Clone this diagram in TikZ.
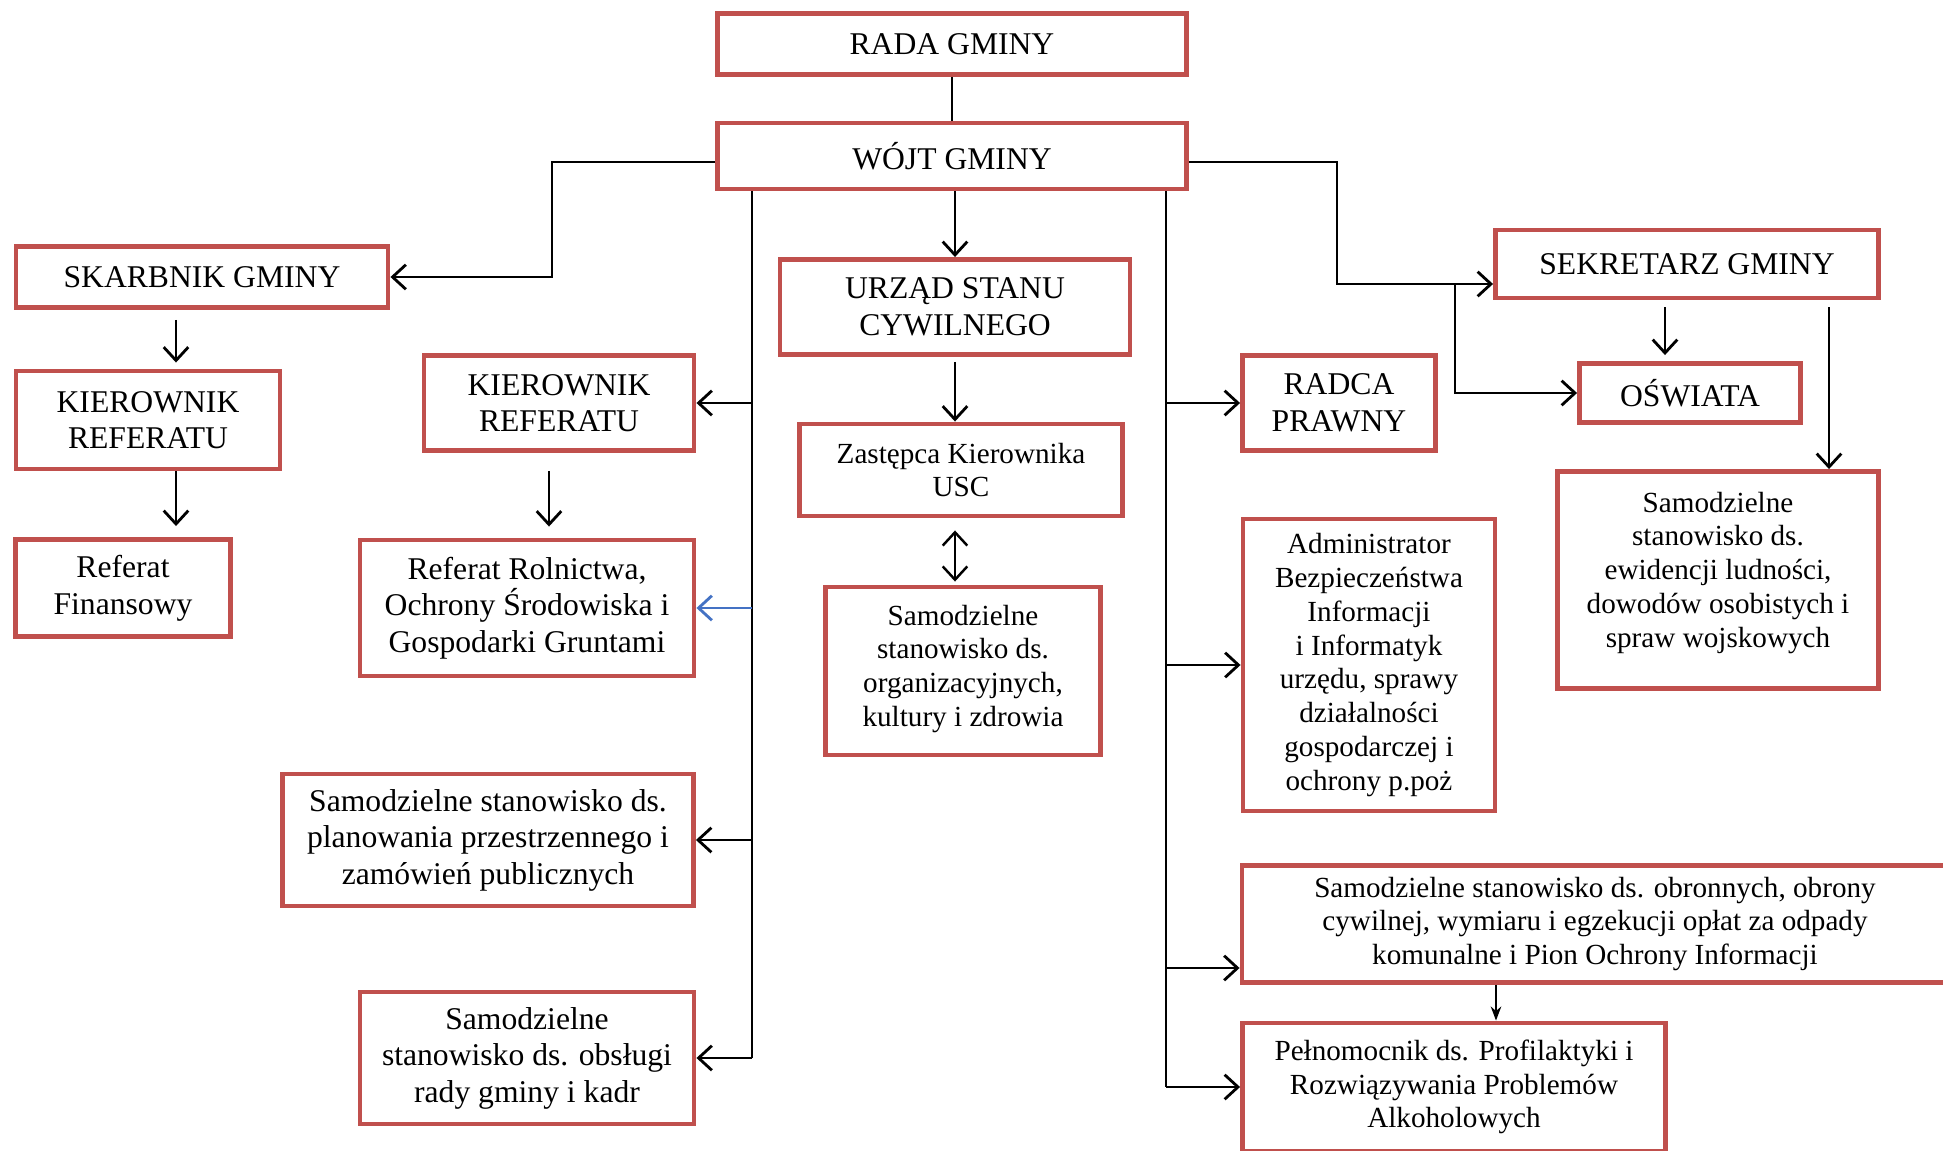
\documentclass[tikz,border=0pt]{standalone}
\usepackage{fontspec}
\setmainfont{Liberation Serif}
\usetikzlibrary{arrows.meta}
\usetikzlibrary{positioning}
\usepackage{xcolor}
\definecolor{boxred}{HTML}{C0504D}
\definecolor{linkblue}{HTML}{4472C4}

\begin{document}
\begin{tikzpicture}[
                x=0.1mm, y=-0.1mm,
                every node/.style={font=\fontsize{9}{10.4}\selectfont},
                box/.style={rectangle, draw=boxred, line width=1.4pt, fill=white,
                    align=center, inner sep=0pt},
                small box/.style={box, font=\fontsize{8.3}{9.6}\selectfont},
                arrow/.style={-{Straight Barb[length=3.8pt, width=7pt]}, line width=0.8pt},
                twoway/.style={{Straight Barb[length=3.8pt, width=7pt]}-{Straight Barb[length=3.8pt, width=7pt]}, line width=0.7pt},
                thin arrow/.style={-{Stealth[length=4pt, width=3pt]}, line width=0.5pt},
                trunk/.style={line width=0.7pt},
            ]

            \useasboundingbox (0,0) rectangle (1943,1151);
            \fill[white] (0,0) rectangle (1943,1151);

            % Top
            \node[box, minimum width=46.9mm, minimum height=6.1mm] (rada) at (952,44) {RADA GMINY};
            \node[box, minimum width=46.9mm, minimum height=6.6mm] (wojt) at (952,156) {WÓJT GMINY};

            % Left column
            \node[box, minimum width=37.2mm, minimum height=6.1mm] (skarbnik) at (202,277) {SKARBNIK GMINY};
            \node[box, minimum width=26.4mm, minimum height=9.8mm] (kierL) at (148,420) {KIEROWNIK\\REFERATU};
            \node[box, minimum width=21.5mm, minimum height=9.7mm] (finans) at (123,588) {Referat\\Finansowy};

            % Under left trunk
            \node[box, minimum width=27mm, minimum height=9.5mm] (kierM) at (559,403) {KIEROWNIK\\REFERATU};
            \node[box, minimum width=33.4mm, minimum height=13.6mm] (rolnictwo) at (527,608)
                {Referat Rolnictwa,\\Ochrony Środowiska i\\Gospodarki Gruntami};
            \node[box, minimum width=41.1mm, minimum height=13.2mm] (planow) at (488,840)
                {Samodzielne stanowisko ds.\\planowania przestrzennego i\\zamówień publicznych};
            \node[box, minimum width=33.4mm, minimum height=13.2mm] (obslugi) at (527,1058)
                {Samodzielne\\stanowisko ds. obsługi\\rady gminy i kadr};

            % Middle
            \node[box, minimum width=35mm, minimum height=9.5mm] (usc) at (955,307) {URZĄD STANU\\CYWILNEGO};
            \node[small box, minimum width=32.3mm, minimum height=9.2mm] (zastepca) at (961,470) {Zastępca Kierownika\\USC};
            \node[small box, minimum width=27.5mm, minimum height=16.8mm] (organiz) at (963,671)
                {Samodzielne\\stanowisko ds.\\organizacyjnych,\\kultury i zdrowia\\[-6.6pt]\mbox{}};

            % Right trunk
            \node[box, minimum width=19.3mm, minimum height=9.5mm] (radca) at (1339,403) {RADCA\\PRAWNY};
            \node[small box, minimum width=25.2mm, minimum height=29.2mm] (admin) at (1369,665)
                {Administrator\\Bezpieczeństwa\\Informacji\\i Informatyk\\urzędu, sprawy\\działalności\\gospodarczej i\\ochrony p.poż};
            \node[small box, minimum width=70.6mm, minimum height=11.7mm] (obron) at (1595,924)
                {Samodzielne stanowisko ds. obronnych, obrony\\cywilnej, wymiaru i egzekucji opłat za odpady\\komunalne i Pion Ochrony Informacji};
            \node[small box, minimum width=42.3mm, minimum height=12.8mm] (pelnom) at (1454,1087)
                {Pełnomocnik ds. Profilaktyki i\\Rozwiązywania Problemów\\Alkoholowych};

            % Right column
            \node[box, minimum width=38.3mm, minimum height=6.8mm] (sekretarz) at (1687,264) {SEKRETARZ GMINY};
            \node[box, minimum width=22.1mm, minimum height=5.9mm] (oswiata) at (1690,393) {OŚWIATA};
            \node[small box, minimum width=32.1mm, minimum height=21.7mm] (ewidencji) at (1718,580)
                {Samodzielne\\stanowisko ds.\\ewidencji ludności,\\dowodów osobistych i\\spraw wojskowych\\[-3.6pt]\mbox{}};

            % Helper coordinates
            \coordinate (lx) at (752,0);
            \coordinate (rx) at (1166,0);
            \coordinate (kx) at ([xshift=2.8mm]kierL.north);
            \coordinate (mx) at ([xshift=-1mm]kierM.south);
            \coordinate (sx) at ([xshift=-2.2mm]sekretarz.south);
            \coordinate (ex) at ([xshift=14.2mm]sekretarz.south);
            \coordinate (px) at ([xshift=4.2mm]pelnom.north);

            % Arrows
            \draw[trunk] (rada.south) -- (wojt.north);
            \draw[arrow] ([yshift=-0.6mm]wojt.west) -- ++(-163,0) |- (skarbnik.east);
            \draw[arrow] ([yshift=-0.6mm]wojt.east) -- ++(148,0) |- ([yshift=-2mm]sekretarz.west);
            \draw[arrow] ([yshift=-2mm]sekretarz.west) ++(-38,0) |- (oswiata.west);
            \draw[arrow] (wojt.south -| usc.north) -- (usc.north);

            \draw[arrow, shorten <=1mm, shorten >=0.6mm] (kx |- skarbnik.south) -- (kx |- kierL.north);
            \draw[arrow, shorten >=1.1mm] (kx |- kierL.south) -- (kx |- finans.north);
            \draw[arrow, shorten <=1.8mm, shorten >=1.1mm] (mx) -- (mx |- rolnictwo.north);
            \draw[arrow, shorten <=0.5mm] (usc.south) -- (usc.south |- zastepca.north);
            \draw[twoway, shorten <=1.2mm, shorten >=0.3mm] (usc.south |- zastepca.south) -- (usc.south |- organiz.north);
            \draw[arrow, shorten <=0.7mm, shorten >=0.6mm] (sx) -- (sx |- oswiata.north);
            \draw[arrow, shorten <=0.7mm] (ex) -- (ex |- ewidencji.north);
            \draw[thin arrow] (px |- obron.south) -- (px);

            % Left trunk
            \draw[trunk] (wojt.south -| lx) -- (obslugi.east -| lx);
            \draw[arrow] (kierM.east -| lx) -- (kierM.east);
            \draw[arrow, draw=linkblue] (rolnictwo.east -| lx) -- (rolnictwo.east);
            \draw[arrow] (planow.east -| lx) -- (planow.east);
            \draw[arrow] (obslugi.east -| lx) -- (obslugi.east);

            % Right trunk
            \draw[trunk] (wojt.south -| rx) -- (pelnom.west -| rx);
            \draw[arrow] (radca.west -| rx) -- (radca.west);
            \draw[arrow] (admin.west -| rx) -- (admin.west);
            \draw[arrow] ([yshift=-4.4mm]obron.west -| rx) -- ([yshift=-4.4mm]obron.west);
            \draw[arrow] (pelnom.west -| rx) -- (pelnom.west);

            \end{tikzpicture}
\end{document}
